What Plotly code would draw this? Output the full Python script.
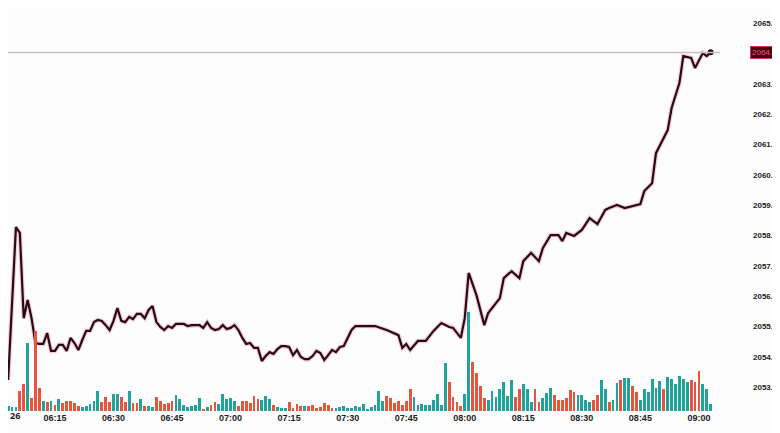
import plotly.graph_objects as go
import pandas as pd

price_times = ["06:03","06:05","06:06","06:07","06:08","06:09","06:10","06:11","06:12","06:13","06:14","06:15","06:16","06:17","06:18","06:19","06:20","06:21","06:22","06:23","06:24","06:25","06:26","06:27","06:28","06:29","06:30","06:31","06:32","06:33","06:34","06:35","06:36","06:37","06:38","06:39","06:40","06:41","06:42","06:43","06:44","06:45","06:46","06:47","06:48","06:49","06:50","06:51","06:52","06:53","06:54","06:55","06:56","06:57","06:58","06:59","07:00","07:01","07:02","07:03","07:04","07:05","07:06","07:07","07:08","07:09","07:10","07:11","07:12","07:13","07:14","07:15","07:16","07:17","07:18","07:19","07:20","07:21","07:22","07:23","07:24","07:25","07:26","07:27","07:28","07:29","07:30","07:31","07:32","07:33","07:37","07:40","07:43","07:44","07:45","07:46","07:48","07:50","07:52","07:54","07:56","07:57","07:59","08:00","08:01","08:03","08:05","08:06","08:08","08:09","08:10","08:12","08:14","08:15","08:17","08:19","08:20","08:22","08:24","08:25","08:26","08:28","08:30","08:32","08:34","08:36","08:37","08:39","08:41","08:43","08:45","08:46","08:48","08:49","08:51","08:52","08:53","08:55","08:56","08:58","08:59","09:01","09:02","09:03"]
prices = [2053.23,2058.27,2058.08,2055.27,2055.87,2055.27,2054.45,2054.42,2054.42,2054.78,2054.19,2054.19,2054.39,2054.39,2054.19,2054.62,2054.45,2054.22,2054.55,2054.85,2054.85,2055.14,2055.21,2055.18,2055.04,2054.88,2055.18,2055.60,2055.18,2055.14,2055.31,2055.24,2055.41,2055.41,2055.27,2055.54,2055.67,2055.14,2054.98,2054.88,2055.01,2054.95,2055.08,2055.08,2055.08,2055.01,2055.04,2055.04,2055.04,2054.95,2055.14,2054.95,2054.88,2054.91,2055.04,2054.91,2054.95,2055.04,2054.88,2054.62,2054.42,2054.45,2054.29,2054.29,2053.86,2054.02,2054.15,2054.09,2054.25,2054.35,2054.35,2054.32,2054.05,2054.22,2053.99,2053.92,2053.92,2054.02,2054.19,2054.12,2053.89,2054.05,2054.22,2054.15,2054.32,2054.35,2054.62,2054.88,2055.01,2055.01,2055.01,2054.88,2054.71,2054.29,2054.42,2054.22,2054.52,2054.52,2054.85,2055.11,2054.98,2054.95,2054.62,2055.27,2056.76,2056.03,2055.04,2055.44,2055.77,2055.93,2056.59,2056.82,2056.59,2057.15,2057.42,2057.15,2057.58,2058.01,2058.01,2057.81,2058.08,2057.98,2058.18,2058.57,2058.37,2058.84,2058.90,2059.00,2058.90,2058.97,2059.03,2059.46,2059.72,2060.71,2061.21,2061.47,2062.20,2063.02,2063.91,2063.85,2063.52,2064.01,2063.91,2064.04]

vol_start = "06:03"
volumes = [5,4,4,20,27,68,13,80,23,
 10,9,10,6,12,8,10,10,8,5,4,5,7,10,20,9,14,9,17,17,14,9,20,8,8,12,5,5,4,14,10,7,8,10,16,12,6,4,5,6,13,2,4,6,9,7,17,12,13,10,5,10,10,8,15,12,11,15,12,6,4,3,3,9,3,7,5,5,5,6,3,4,8,6,3,3,4,5,3,3,5,4,7,2,4,6,20,10,15,13,8,10,6,10,
 22,14,6,7,6,6,11,17,6,48,29,14,9,5,17,99,49,38,25,13,11,20,14,22,29,15,31,14,22,27,22,9,22,9,13,18,23,16,11,11,13,21,19,16,16,11,9,11,16,31,22,9,11,28,31,33,33,25,19,11,22,19,32,23,30,22,34,32,27,35,32,29,31,29,40,27,22,7]
vol_up = [1,1,1,0,0,1,0,0,0,
 1,0,1,0,1,0,0,0,0,0,1,1,1,1,1,0,0,0,1,1,0,0,1,0,0,1,0,1,1,0,0,0,0,0,1,1,1,1,1,1,1,0,1,0,0,1,1,1,1,1,0,0,0,0,0,0,1,1,1,0,1,1,1,0,0,0,0,1,0,0,0,0,0,0,0,1,1,1,1,1,1,1,1,1,1,1,1,1,0,0,0,0,0,0,
 0,1,1,1,1,1,1,1,1,1,0,0,0,0,1,1,0,0,0,0,1,1,1,1,1,1,1,0,0,1,1,1,0,0,1,1,1,0,0,0,0,0,0,1,1,1,1,0,0,1,1,0,1,1,0,1,1,0,0,1,1,1,1,1,1,0,1,1,1,1,1,1,0,0,0,1,1,1]

last_price = 2064.025
y_ticks = [2053,2054,2055,2056,2057,2058,2059,2060,2061,2062,2063,2065]
x_ticks = ["06:15","06:30","06:45","07:00","07:15","07:30","07:45","08:00","08:15","08:30","08:45","09:00"]

day = "2024-03-26 "
pt = pd.to_datetime([day + t for t in price_times])
n = min(len(volumes), len(vol_up))
vt = pd.date_range(day + vol_start, periods=n, freq="1min")
cols = ["#1fa39a" if u else "#e8553f" for u in vol_up[:n]]

fig = go.Figure()
fig.add_trace(go.Bar(x=vt, y=volumes[:n], marker_color=cols, marker_line_width=0,
                     width=60000*0.72, yaxis="y2", hoverinfo="skip"))
fig.add_trace(go.Scatter(x=pt, y=prices, mode="lines", line=dict(color="rgba(230,90,140,0.3)", width=4.5), hoverinfo="skip"))
fig.add_trace(go.Scatter(x=pt, y=prices, mode="lines", line=dict(color="#2a0a16", width=2.2)))
fig.add_trace(go.Scatter(x=[pt[-1]], y=[prices[-1]], mode="markers", marker=dict(color="#2a0a16", size=6)))

x0 = pd.Timestamp(day + "06:02:58")
x1 = pd.Timestamp(day + "09:05:24")
fig.add_shape(type="line", xref="paper", x0=0, x1=1, yref="y", y0=last_price, y1=last_price,
              line=dict(color="#c8c0c4", width=1.5))
fig.add_annotation(xref="paper", x=1, xshift=30, yref="y", y=last_price, text=f"{last_price:.3f}", showarrow=False,
                   xanchor="left", font=dict(size=8, color="#ff5070", family="Liberation Sans"),
                   bgcolor="#4a0010", bordercolor="#e03060", borderwidth=1, borderpad=1)
fig.add_annotation(xref="paper", x=0, yref="paper", y=0, yshift=-13, text="<b>26</b>", showarrow=False,
                   xanchor="left", font=dict(size=9, color="#222"))

fig.update_layout(
    width=780, height=433, margin=dict(l=0, r=68, t=0, b=30, autoexpand=False),
    paper_bgcolor="#fdfdfd", plot_bgcolor="#fdfdfd", showlegend=False, bargap=0,
    xaxis=dict(range=[x0, x1], tickvals=pd.to_datetime([day + t for t in x_ticks]), ticktext=[f"<b>{t}</b>" for t in x_ticks],
               showgrid=False, zeroline=False, ticks="", tickfont=dict(size=9, color="#222", family="Liberation Sans")),
    yaxis=dict(side="right", range=[2052.21, 2065.495], tickvals=y_ticks, ticktext=[f"<b>{v:.3f}</b>" for v in y_ticks],
               showgrid=False, zeroline=False, tickfont=dict(size=8, color="#222", family="Liberation Sans"), ticklabelstandoff=32,
               automargin=False),
    yaxis2=dict(overlaying="y", range=[0, 403], visible=False),
)
fig.write_html("out.html")
